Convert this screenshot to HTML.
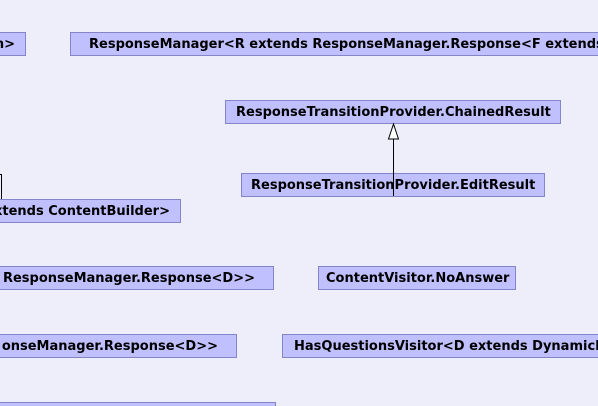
<!DOCTYPE html>
<html><head><meta charset="utf-8"><style>
html,body{margin:0;padding:0;overflow:hidden}
body{width:598px;height:406px;background:#eeeefa;font-family:"DejaVu Sans","Liberation Sans",sans-serif;font-weight:bold;font-size:13px;color:#000}
#w{position:relative;width:598px;height:406px;overflow:hidden}
.b{position:absolute;background:#c0c0fe;border:1px solid #8484c8;box-sizing:border-box;height:24px;white-space:nowrap;line-height:23px;overflow:hidden}
.t{position:absolute;top:0;white-space:nowrap}
</style></head><body><div id="w">
<div class="b" style="left:-200px;top:32px;width:226px"><span class="t" style="right:10px">n&gt;</span></div>
<div class="b" style="left:70px;top:32px;width:528px;border-right:none"><span class="t" style="left:18px">ResponseManager&lt;R extends ResponseManager.Response&lt;F extends</span></div>
<div class="b" style="left:225px;top:100px;width:336px"><span class="t" style="left:10px">ResponseTransitionProvider.ChainedResult</span></div>
<div class="b" style="left:241px;top:173px;width:304px"><span class="t" style="left:9px">ResponseTransitionProvider.EditResult</span></div>
<div class="b" style="left:0;top:199px;width:181px;border-left:none"><span class="t" style="right:10px">xtends ContentBuilder&gt;</span></div>
<div class="b" style="left:0;top:266px;width:274px;border-left:none"><span class="t" style="right:18px">ResponseManager.Response&lt;D&gt;&gt;</span></div>
<div class="b" style="left:318px;top:266px;width:198px"><span class="t" style="left:7px">ContentVisitor.NoAnswer</span></div>
<div class="b" style="left:0;top:334px;width:237px;border-left:none"><span class="t" style="right:18px">onseManager.Response&lt;D&gt;&gt;</span></div>
<div class="b" style="left:282px;top:334px;width:316px;border-right:none"><span class="t" style="left:11px">HasQuestionsVisitor&lt;D extends DynamicPage</span></div>
<div class="b" style="left:0;top:402px;width:276px;height:4px;border-left:none;border-bottom:none"></div>
<svg width="598" height="406" style="position:absolute;left:0;top:0">
<line x1="393.5" y1="196" x2="393.5" y2="139" stroke="#000" stroke-width="1"/>
<polygon points="393.5,124 388.5,139 398.5,139" fill="#fff" stroke="#000" stroke-width="1"/>
<polyline points="0,174.5 1.5,174.5 1.5,199" fill="none" stroke="#000" stroke-width="1"/>
</svg>
</div></body></html>
